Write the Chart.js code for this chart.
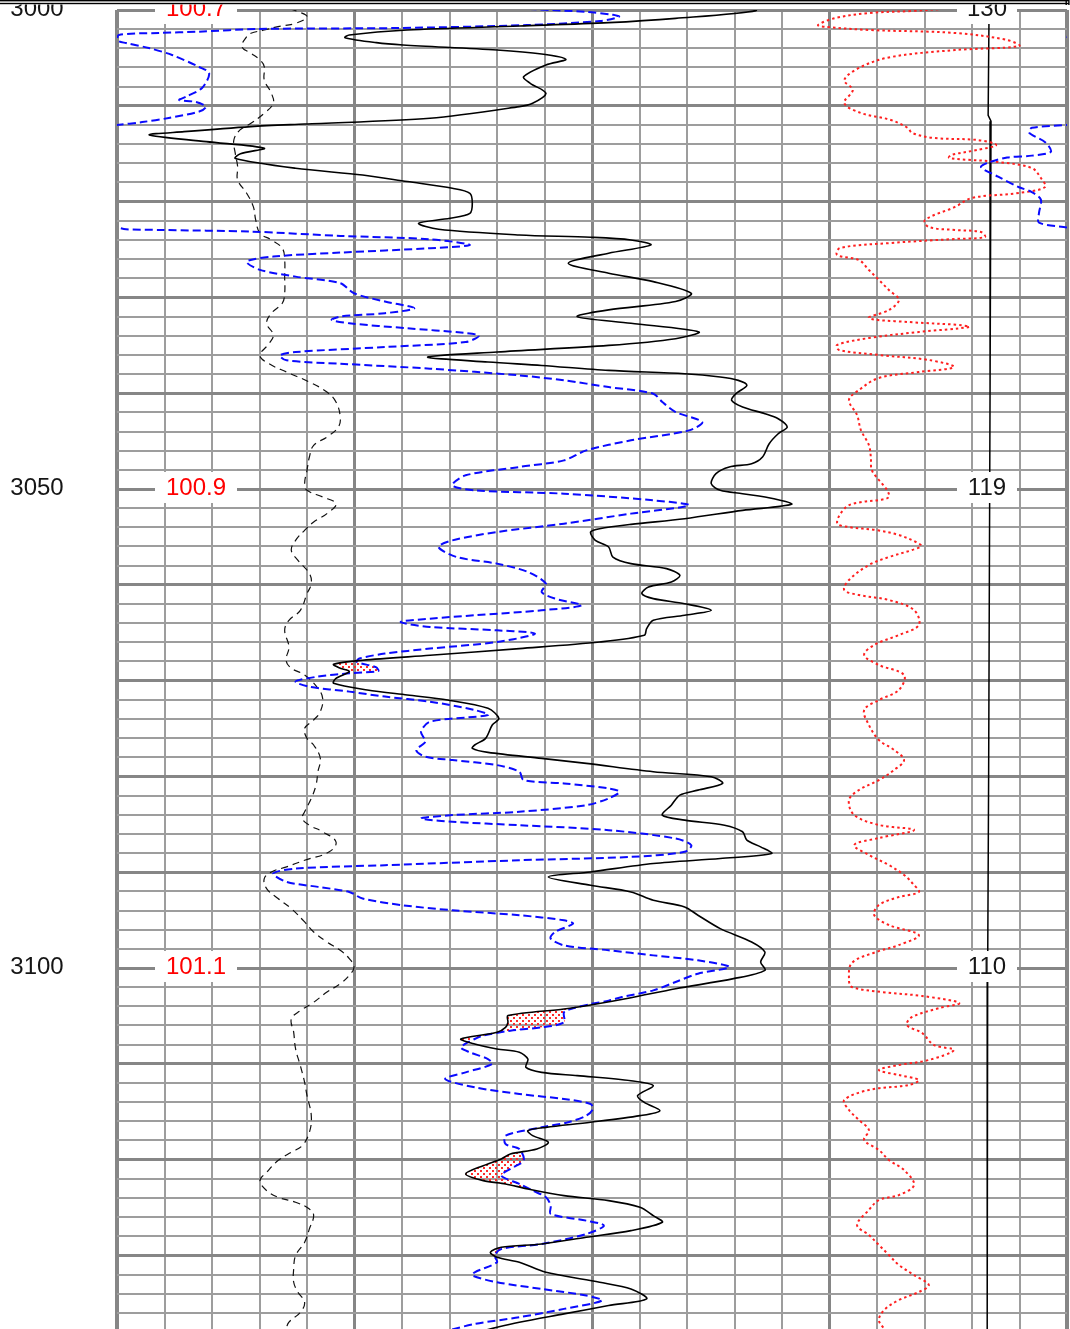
<!DOCTYPE html>
<html>
<head>
<meta charset="utf-8">
<title>Well log 3000–3137 m</title>
<script src="https://cdn.jsdelivr.net/npm/chart.js@4.4.1/dist/chart.umd.min.js"></script>
<style>
  html, body { margin: 0; padding: 0; background: #fff; overflow: hidden; }
  canvas { display: block; }
</style>
</head>
<body>
<canvas id="log" width="1070" height="1329"></canvas>
<script>
// Each curve is a list of [depth (m), reading in chart divisions 0–20].

const solidBlack = [
  [2999.5,13.0],[3000.07,13.45],[3000.87,11.76],[3001.32,10.35],[3001.67,8.47],[3002.09,6.11],[3002.61,4.89],[3002.89,4.80],
  [3003.41,5.46],[3003.65,6.02],[3004.17,8.0],[3004.59,8.94],[3005.15,9.45],[3005.74,9.03],[3006.96,8.56],[3007.65,8.70],
  [3008.70,9.03],[3009.74,8.75],[3010.09,8.47],[3011.30,6.59],[3011.90,3.95],[3012.17,2.82],[3012.70,1.41],[3013.04,0.68],
  [3013.74,1.88],[3014.43,3.10],[3015.0,2.6],[3015.5,2.49],[3016.52,3.76],[3017.22,5.17],[3017.91,6.11],[3018.61,7.06],
  [3019.13,7.43],[3020.17,7.48],[3021.22,7.43],[3021.74,7.01],[3022.26,6.35],[3022.89,6.77],[3023.48,8.47],[3023.72,9.97],
  [3024.0,10.82],[3024.52,11.24],[3025.39,10.35],[3026.43,9.50],[3027.48,10.35],[3028.35,11.29],[3029.57,12.09],[3030.43,11.76],
  [3031.30,10.35],[3032.0,9.69],[3032.70,10.82],[3033.6,12.25],[3034.31,11.76],[3035.01,10.35],[3035.70,8.0],[3036.23,6.54],
  [3036.75,7.81],[3037.10,8.94],[3037.62,10.35],[3037.97,11.95],[3038.31,12.70],[3038.66,13.08],[3039.18,13.26],[3040.05,13.03],
  [3040.75,12.94],[3041.44,13.17],[3042.14,13.64],[3042.66,13.92],[3043.53,14.11],[3044.23,13.92],[3045.27,13.73],[3046.66,13.59],
  [3047.36,13.36],[3047.70,12.89],[3048.40,12.61],[3049.44,12.51],[3050.14,12.70],[3050.49,13.17],[3051.01,13.83],[3051.60,14.20],
  [3052.23,13.17],[3053.10,11.95],[3053.69,10.82],[3054.14,10.16],[3054.49,9.97],[3055.36,10.07],[3056.05,10.35],[3057.10,10.44],
  [3057.79,10.82],[3058.31,11.57],[3059.01,11.85],[3059.70,11.67],[3060.23,11.19],[3060.92,11.05],[3061.44,11.29],[3061.97,11.95],
  [3062.66,12.51],[3063.18,11.95],[3063.70,11.29],[3064.57,11.15],[3065.27,11.10],[3065.97,10.16],[3066.66,8.47],[3067.36,6.59],
  [3067.88,5.17],[3068.3,4.56],[3068.71,4.70],[3069.06,4.89],[3069.76,4.61],[3070.28,4.56],[3070.98,5.27],[3071.50,6.11],
  [3072.02,6.96],[3072.89,7.81],[3073.94,8.04],[3074.63,7.90],[3076.03,7.76],[3076.72,7.53],[3077.07,7.48],[3077.49,7.81],
  [3078.12,8.94],[3078.64,9.88],[3079.51,11.29],[3080.03,12.51],[3080.73,12.75],[3081.43,12.23],[3081.95,11.85],[3083.0,11.67],
  [3084.04,11.48],[3084.56,11.95],[3085.09,12.79],[3085.78,13.17],[3086.66,13.26],[3087.35,13.55],[3088.05,13.78],[3088.57,12.70],
  [3089.09,11.29],[3089.97,9.97],[3090.49,9.08],[3091.36,9.97],[3092.06,10.82],[3092.93,11.29],[3093.62,11.95],[3094.49,12.23],
  [3095.89,12.70],[3097.28,13.36],[3098.33,13.64],[3099.37,13.55],[3100.24,13.64],[3101.11,12.98],[3102.16,11.76],[3103.1,10.82],
  [3103.86,9.97],[3104.28,9.41],[3104.97,8.23],[3105.67,8.23],[3106.19,8.18],[3106.71,8.0],[3107.41,7.24],[3107.93,7.53],
  [3108.45,8.0],[3108.80,8.47],[3109.50,8.65],[3110.37,8.61],[3110.89,8.94],[3111.23,9.69],[3111.76,10.82],[3112.28,11.29],
  [3113.32,10.96],[3114.02,11.10],[3114.89,11.43],[3115.41,11.01],[3116.10,9.97],[3116.63,9.03],[3116.97,8.65],[3117.50,8.75],
  [3118.19,9.08],[3118.89,8.84],[3119.41,8.28],[3119.93,8.09],[3120.63,7.71],[3121.50,7.34],[3122.19,7.71],[3122.54,8.18],
  [3123.06,8.65],[3123.76,9.41],[3124.28,10.35],[3124.97,11.01],[3125.84,11.29],[3126.54,11.48],[3127.41,10.82],[3128.10,9.88],
  [3128.80,8.94],[3129.15,8.09],[3129.67,7.86],[3130.19,8.0],[3130.71,8.47],[3131.76,9.03],[3132.80,10.16],[3133.50,10.82],
  [3134.54,11.15],[3135.23,10.35],[3136.10,9.41],[3136.97,8.47],[3137.50,8.0],[3138.4,7.3]
];

// negative readings run off the left edge and reappear on the backup (wrapped) scale
const dashedBlue = [
  [2999.6,7.4],[3000.2,9.89],[3000.5,10.44],[3000.7,10.57],[3001.15,10.17],[3001.57,8.63],[3001.88,5.94],[3001.98,2.99],
  [3002.26,1.73],[3002.4,0.88],[3002.6,0.04],[3003.2,0.02],[3003.45,0.19],[3003.97,0.67],[3004.7,1.16],[3005.95,1.73],
  [3006.6,1.94],[3008.14,1.79],[3009.06,1.45],[3009.4,1.31],[3009.6,1.66],[3010.1,1.87],[3010.6,1.73],[3011.27,1.09],
  [3011.7,0.53],[3012.0,0.0],[3012.3,-0.74],[3012.8,-0.8],[3013.8,-0.46],[3014.8,-0.34],[3015.2,-0.74],[3015.4,-1.26],
  [3015.9,-1.64],[3016.4,-1.81],[3017.4,-1.45],[3018.5,-1.01],[3019.0,-0.74],[3019.8,-0.55],[3021.2,-0.59],[3022.2,-0.59],
  [3022.7,0.0],[3022.89,0.19],[3022.96,0.94],[3023.13,2.82],[3023.58,4.70],[3023.93,6.59],[3024.52,7.43],[3024.87,6.59],
  [3025.32,4.70],[3025.74,3.29],[3026.26,2.73],[3027.13,3.01],[3027.83,3.76],[3028.52,4.70],[3029.57,4.99],[3030.43,5.64],
  [3031.13,6.26],[3031.65,5.64],[3032.0,4.70],[3032.35,4.52],[3032.70,4.89],[3033.22,6.11],[3033.7,7.3],[3034.0,7.62],
  [3034.66,7.34],[3035.18,5.64],[3035.70,3.76],[3036.05,3.43],[3036.57,3.57],[3036.92,4.70],[3037.44,6.59],[3038.14,8.47],
  [3038.66,9.41],[3039.36,10.35],[3040.05,11.29],[3040.92,11.48],[3041.97,11.76],[3043.01,12.32],[3043.88,12.04],[3044.92,10.82],
  [3045.97,9.88],[3047.01,9.41],[3047.70,8.47],[3048.57,7.34],[3049.62,7.06],[3050.14,7.53],[3050.49,9.41],[3051.18,11.29],
  [3051.70,12.04],[3052.57,10.82],[3053.62,9.41],[3054.49,8.0],[3055.36,7.06],[3056.05,6.77],[3057.10,7.15],[3057.79,8.0],
  [3058.66,8.65],[3059.88,9.03],[3060.75,8.94],[3061.44,9.22],[3062.14,9.78],[3062.66,8.94],[3063.18,7.53],[3063.53,6.59],
  [3063.88,5.97],[3064.40,6.59],[3064.75,8.0],[3065.10,8.80],[3065.97,8.0],[3066.66,6.59],[3067.18,5.64],[3067.7,5.1],
  [3068.05,5.05],[3068.6,5.45],[3069.0,5.5],[3069.23,4.89],[3069.58,4.23],[3070.10,3.76],[3070.63,4.05],[3071.15,4.89],
  [3071.67,5.64],[3072.20,6.59],[3073.07,7.53],[3073.59,7.81],[3074.29,6.59],[3075.33,6.40],[3076.38,6.49],[3077.25,6.30],
  [3077.94,6.49],[3078.29,7.06],[3078.82,8.0],[3079.51,8.47],[3080.38,8.56],[3080.73,9.41],[3081.25,10.35],[3081.60,10.58],
  [3082.30,10.35],[3083.0,9.88],[3083.69,8.47],[3084.04,7.06],[3084.39,6.40],[3084.74,7.06],[3085.09,8.47],[3085.61,10.35],
  [3086.48,11.76],[3087.18,12.09],[3087.87,11.95],[3088.40,10.82],[3088.75,8.47],[3089.27,5.64],[3089.62,3.76],[3090.14,3.29],
  [3091.01,3.57],[3091.53,4.23],[3092.06,4.89],[3092.75,5.17],[3093.45,6.02],[3093.97,7.06],[3094.49,8.47],[3095.02,9.41],
  [3095.37,9.60],[3096.24,9.22],[3096.93,9.13],[3097.63,9.41],[3098.15,10.35],[3098.68,11.29],[3099.20,12.23],[3099.90,12.89],
  [3100.59,12.23],[3101.46,11.76],[3102.33,11.29],[3103.03,10.63],[3103.41,10.35],[3103.76,9.97],[3104.2,9.6],[3104.63,9.41],
  [3105.67,9.41],[3106.19,8.94],[3106.54,8.28],[3107.06,7.71],[3107.41,7.53],[3108.28,7.24],[3108.80,7.43],[3109.50,7.81],
  [3110.02,7.90],[3110.89,7.34],[3111.58,6.91],[3112.45,7.53],[3113.15,8.47],[3113.67,9.41],[3114.19,9.97],[3114.71,10.02],
  [3115.41,9.88],[3116.10,9.50],[3116.63,8.94],[3117.50,8.18],[3118.37,8.18],[3118.89,8.47],[3120.10,8.56],[3120.97,8.28],
  [3121.67,8.09],[3122.54,8.47],[3123.23,8.75],[3123.93,9.03],[3124.80,9.13],[3125.67,9.13],[3126.37,9.88],[3126.89,10.25],
  [3127.76,9.88],[3128.80,8.94],[3129.32,8.09],[3130.02,7.95],[3130.71,8.0],[3131.76,7.53],[3132.10,7.48],[3132.80,8.0],
  [3133.50,8.94],[3134.19,9.88],[3134.71,10.21],[3135.58,9.41],[3136.45,8.47],[3137.15,7.53],[3137.8,7.0]
];

const dashedBlack = [
  [2999.5,3.4],[3000.17,3.81],[3000.70,4.0],[3001.39,3.76],[3001.74,3.39],[3002.09,3.10],[3002.43,2.82],[3002.78,2.73],
  [3003.83,2.63],[3004.52,2.82],[3005.22,3.01],[3005.91,3.10],[3007.30,3.10],[3008.70,3.25],[3009.74,3.29],[3010.78,3.10],
  [3011.83,2.82],[3012.52,2.59],[3013.57,2.46],[3014.96,2.49],[3016.35,2.54],[3017.74,2.54],[3019.13,2.73],[3020.52,2.87],
  [3021.91,2.92],[3023.30,3.01],[3024.0,3.25],[3024.87,3.48],[3026.09,3.53],[3027.83,3.53],[3029.57,3.53],[3030.61,3.48],
  [3031.65,3.25],[3032.70,3.15],[3033.91,3.29],[3034.83,3.20],[3036.05,3.01],[3036.92,3.20],[3037.79,3.57],[3038.83,4.05],
  [3039.88,4.42],[3040.92,4.61],[3042.49,4.70],[3043.53,4.66],[3044.57,4.42],[3045.44,4.14],[3046.66,4.05],[3048.05,4.0],
  [3049.44,3.95],[3050.14,4.0],[3050.83,4.33],[3051.53,4.61],[3052.57,4.42],[3053.44,4.14],[3054.31,3.95],[3055.36,3.76],
  [3056.40,3.67],[3057.44,3.81],[3058.83,4.05],[3059.88,4.09],[3060.92,4.0],[3062.66,3.86],[3063.70,3.62],[3064.75,3.53],
  [3066.49,3.62],[3067.88,3.56],[3068.71,3.67],[3069.41,3.95],[3070.80,4.23],[3071.85,4.33],[3073.24,4.28],[3074.11,4.14],
  [3074.98,3.95],[3076.03,4.0],[3076.72,4.14],[3078.12,4.28],[3079.51,4.23],[3080.91,4.19],[3082.30,4.09],[3083.69,3.95],
  [3084.39,3.90],[3085.09,4.05],[3085.78,4.33],[3086.83,4.61],[3087.87,4.47],[3088.75,3.95],[3089.44,3.57],[3089.97,3.25],
  [3090.66,3.10],[3091.71,3.15],[3092.75,3.39],[3093.80,3.67],[3095.19,3.95],[3096.24,4.14],[3097.28,4.42],[3098.15,4.70],
  [3099.02,4.89],[3099.90,4.99],[3100.77,4.89],[3101.64,4.70],[3102.51,4.42],[3103.58,4.14],[3104.45,3.86],[3105.32,3.67],
  [3106.71,3.72],[3108.45,3.76],[3110.19,3.86],[3111.93,3.95],[3113.32,4.0],[3115.41,4.09],[3117.15,4.05],[3118.54,3.90],
  [3119.23,3.67],[3120.10,3.39],[3121.32,3.15],[3122.19,3.01],[3123.23,3.15],[3123.93,3.39],[3124.45,3.76],[3125.15,4.05],
  [3125.84,4.14],[3127.23,4.05],[3128.63,3.95],[3130.02,3.76],[3131.41,3.72],[3132.80,3.72],[3133.84,3.81],[3134.89,3.95],
  [3135.93,3.86],[3136.97,3.62],[3137.8,3.55]
];

const dottedRed = [
  [2999.8,17.64],[3000.1,16.74],[3000.31,15.85],[3000.84,15.12],[3001.57,14.76],[3001.77,14.95],[3002.09,15.85],[3002.40,17.64],
  [3003.13,18.74],[3003.76,18.99],[3004.18,17.64],[3004.91,16.29],[3005.95,15.66],[3007.31,15.31],[3008.35,15.49],[3009.71,15.31],
  [3010.75,15.66],[3011.48,16.29],[3012.32,16.65],[3012.84,16.74],[3013.36,17.2],[3013.57,18.11],[3014.09,18.51],[3014.61,18.11],
  [3015.14,17.56],[3015.45,17.52],[3015.87,18.55],[3016.49,19.26],[3017.54,19.45],[3018.48,19.54],[3019.10,18.99],[3019.62,18.0],
  [3020.56,17.64],[3021.92,17.01],[3022.65,17.09],[3022.96,17.64],[3023.17,18.19],[3023.70,18.27],[3023.90,17.64],[3024.32,16.29],
  [3024.84,15.22],[3025.57,15.16],[3026.10,15.62],[3027.14,15.83],[3028.18,16.04],[3029.23,16.25],[3030.27,16.46],[3031.32,16.25],
  [3032.15,15.83],[3032.57,16.67],[3032.88,17.73],[3033.09,17.94],[3033.61,16.88],[3034.24,15.83],[3034.97,15.16],[3035.49,15.2],
  [3036.01,16.04],[3036.53,17.09],[3037.27,17.62],[3037.79,16.88],[3038.41,16.04],[3039.67,15.62],[3040.71,15.41],[3042.28,15.58],
  [3043.84,15.66],[3045.41,15.83],[3046.66,15.87],[3048.02,15.89],[3049.06,16.04],[3050.10,16.21],[3050.84,16.25],[3051.15,16.04],
  [3051.36,15.68],[3051.88,15.35],[3053.55,15.16],[3053.97,15.41],[3054.28,15.98],[3054.80,16.46],[3055.53,16.82],[3055.95,16.93],
  [3056.37,16.74],[3057.10,16.25],[3057.93,15.83],[3059.5,15.41],[3060.54,15.31],[3061.06,15.62],[3061.59,16.25],[3062.63,16.78],
  [3064.20,16.88],[3065.24,16.46],[3066.28,15.94],[3067.33,15.73],[3068.37,16.04],[3069.42,16.57],[3070.98,16.46],[3072.03,16.04],
  [3073.07,15.73],[3074.63,15.83],[3076.20,16.04],[3077.24,16.36],[3078.29,16.57],[3079.33,16.36],[3080.38,16.04],[3081.42,15.62],
  [3082.46,15.41],[3084.03,15.52],[3085.07,16.04],[3085.59,16.78],[3086.43,16.04],[3087.16,15.52],[3088.2,15.83],[3089.25,16.25],
  [3090.29,16.57],[3091.34,16.78],[3092.07,16.88],[3092.59,16.46],[3093.42,16.04],[3094.47,15.94],[3095.51,16.25],[3096.56,16.88],
  [3097.6,16.46],[3098.33,15.98],[3099.48,15.47],[3101.25,15.41],[3101.98,15.47],[3102.51,16.11],[3102.92,16.95],[3103.65,17.73],
  [3104.18,17.31],[3105.11,16.74],[3105.95,16.63],[3106.79,16.95],[3108.04,17.2],[3108.56,17.62],[3109.60,17.09],[3110.13,16.46],
  [3110.65,16.04],[3111.17,16.46],[3111.69,16.88],[3112.21,16.67],[3112.73,15.83],[3113.78,15.31],[3114.82,15.41],[3115.87,15.62],
  [3116.91,15.83],[3117.95,15.73],[3119.0,16.04],[3120.04,16.25],[3121.09,16.57],[3122.65,16.78],[3123.70,16.46],[3124.22,16.04],
  [3125.26,15.83],[3126.83,15.58],[3127.87,15.83],[3128.91,16.04],[3129.96,16.25],[3131.0,16.46],[3132.05,16.78],[3133.09,17.09],
  [3133.82,16.88],[3134.66,16.46],[3135.70,16.15],[3136.74,16.04],[3137.68,16.15]
];

const solidReference = [
  [2999.5,18.36],[3011.0,18.34],[3011.6,18.40],[3040.0,18.38],[3080.0,18.35],[3100.0,18.33],[3137.8,18.32]
];

// depth annotations along the major depth lines
const labelDepths = [3000, 3050, 3100];
const depthText = ['3000', '3050', '3100'];
const leftTrackText = ['100.7', '100.9', '101.1'];
const rightTrackText = ['130', '119', '110'];

const depthTop = 3000, depthBottom = 3137.68;
const trackDivisions = 20;

const depthGrid = [];
for (let d = depthTop; d <= depthBottom; d += 2) depthGrid.push(d);
const columnGrid = [];
for (let c = 0; c <= trackDivisions; c++) columnGrid.push(c);

const toPoints = (rows, shift = 0) => rows.map(([d, v]) => ({ x: v + shift, y: d }));

const canvas = document.getElementById('log');
const ctx0 = canvas.getContext('2d');

// red-dot stipple for the crossover shading
const tile = document.createElement('canvas');
tile.width = 6; tile.height = 6;
const tc = tile.getContext('2d');
tc.fillStyle = '#ff2a2a';
tc.fillRect(0, 0, 2, 2);
tc.fillRect(3, 3, 2, 2);
const stipple = ctx0.createPattern(tile, 'repeat');

const crossoverAndLabels = {
  id: 'crossoverAndLabels',
  beforeDatasetsDraw(chart) {
    const { ctx, chartArea: a } = chart;
    const solid = chart.getDatasetMeta(0);
    const blue = chart.getDatasetMeta(1);
    [solid, blue].forEach(m => m.dataset.updateControlPoints(a, m.iScale.axis));
    ctx.save();
    ctx.beginPath();
    ctx.rect(a.left, a.top, a.right - a.left, a.bottom - a.top);
    ctx.clip();
    // region to the right of the solid curve
    ctx.beginPath();
    solid.dataset.path(ctx);
    let p = solid.data;
    ctx.lineTo(a.right + 60, p[p.length - 1].y);
    ctx.lineTo(a.right + 60, p[0].y);
    ctx.closePath();
    ctx.clip();
    // ... intersected with the region left of the blue curve
    ctx.beginPath();
    blue.dataset.path(ctx);
    p = blue.data;
    ctx.lineTo(a.left - 60, p[p.length - 1].y);
    ctx.lineTo(a.left - 60, p[0].y);
    ctx.closePath();
    ctx.fillStyle = stipple;
    ctx.fill();
    ctx.restore();
  },
  afterDraw(chart) {
    const { ctx } = chart;
    const y = chart.scales.y;
    ctx.save();
    ctx.font = '24px "Liberation Sans", Arial, sans-serif';
    ctx.textAlign = 'center';
    ctx.textBaseline = 'alphabetic';
    labelDepths.forEach((d, i) => {
      const py = y.getPixelForValue(d);
      ctx.fillStyle = '#fff';
      ctx.fillRect(155, py - 17, 82, 31);
      ctx.fillRect(957, py - 17, 60, 31);
      ctx.fillStyle = '#ff0000';
      ctx.fillText(leftTrackText[i], 196, py + 5.5);
      ctx.fillStyle = '#151515';
      ctx.fillText(rightTrackText[i], 987, py + 5.5);
      ctx.fillText(depthText[i], 37, py + 5.5);
    });
    // panel frame along the top
    ctx.fillStyle = '#fff';
    ctx.fillRect(0, 0, 1070, 4.5);
    ctx.fillStyle = '#000';
    ctx.fillRect(0, 0, 1069, 1.4);
    ctx.fillRect(0, 2.8, 1069, 1.4);
    ctx.fillRect(1065.5, 0, 1.4, 5);
    ctx.fillRect(1068.2, 0, 1.4, 5);
    ctx.restore();
  }
};

const gridColor = v => v % 5 === 0 ? '#868686' : '#9d9d9d';

new Chart(canvas, {
  type: 'line',
  data: {
    datasets: [
      { data: toPoints(solidBlack), borderColor: '#000', borderWidth: 1.6, tension: 0.3 },
      { data: toPoints(dashedBlue), borderColor: '#0a0aff', borderWidth: 2, borderDash: [8, 4], tension: 0.3 },
      { data: toPoints(dashedBlue, trackDivisions), borderColor: '#0a0aff', borderWidth: 2, borderDash: [8, 4], tension: 0.3 },
      { data: toPoints(dashedBlack), borderColor: '#111', borderWidth: 1.2, borderDash: [7, 5], tension: 0.4 },
      { data: toPoints(dottedRed), borderColor: '#ff1f1f', borderWidth: 2, borderDash: [2.5, 3], tension: 0.35 },
      { data: toPoints(solidReference), borderColor: '#000', borderWidth: 1.5, tension: 0 }
    ].map(ds => Object.assign({ pointRadius: 0, fill: false, clip: 0 }, ds))
  },
  options: {
    responsive: false,
    animation: false,
    events: [],
    layout: { padding: { left: 117, right: 3, top: 10, bottom: 0 } },
    plugins: { legend: { display: false }, tooltip: { enabled: false } },
    scales: {
      x: {
        type: 'linear', min: 0, max: trackDivisions,
        ticks: { display: false },
        border: { display: false },
        grid: {
          drawTicks: false,
          color: c => gridColor(c.tick.value),
          lineWidth: c => (c.tick.value === 0 || c.tick.value === trackDivisions) ? 4 : (c.tick.value % 5 === 0 ? 3 : 2)
        },
        afterBuildTicks: s => { s.ticks = columnGrid.map(v => ({ value: v })); },
        afterFit: s => { s.height = 0; }
      },
      y: {
        type: 'linear', min: depthTop, max: depthBottom, reverse: true,
        ticks: { display: false },
        border: { display: false },
        grid: {
          drawTicks: false,
          color: c => (c.tick.value % 10 === 0 ? '#868686' : '#9d9d9d'),
          lineWidth: c => (c.tick.value % 10 === 0 ? 3 : 2)
        },
        afterBuildTicks: s => { s.ticks = depthGrid.map(v => ({ value: v })); },
        afterFit: s => { s.width = 0; }
      }
    }
  },
  plugins: [crossoverAndLabels]
});
</script>
</body>
</html>
